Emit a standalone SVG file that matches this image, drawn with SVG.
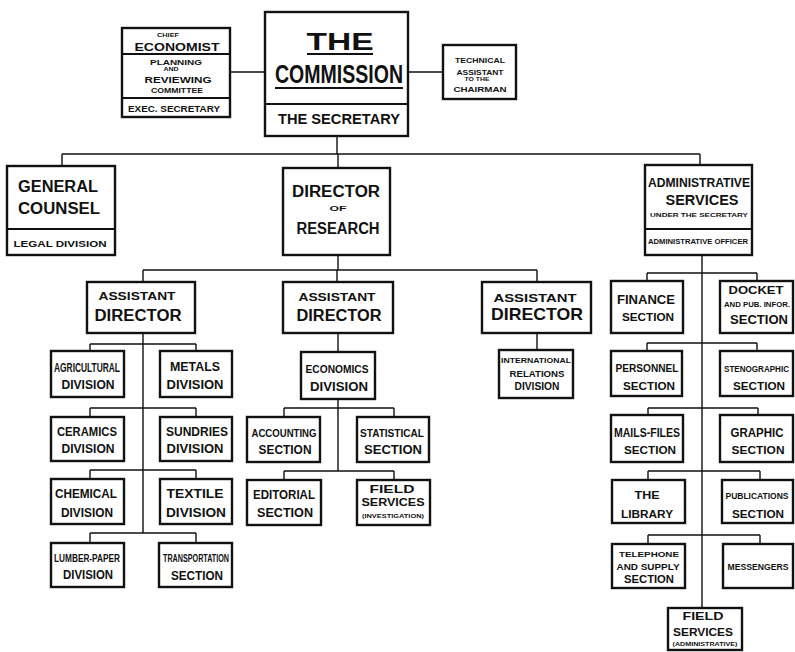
<svg xmlns="http://www.w3.org/2000/svg" width="795" height="652" viewBox="0 0 795 652">
<style>
.b{fill:#fff;stroke:#111;stroke-width:2.4}
.d{stroke:#111;stroke-width:2}
.c{fill:none;stroke:#111;stroke-width:1.4}
text{font-family:"Liberation Sans","DejaVu Sans",sans-serif;font-weight:700;fill:#111;text-anchor:middle}
</style>
<rect width="795" height="652" fill="#fff"/>
<g id="connectors" class="c">
<path d="M230 72H265M408 72H443M337 136V154M62 154H700M62 154V166M338 154V168M700 154V165M338 255V270M143 270H537M143 270V282M337 270V282M537 270V282"/>
<path d="M143 333V533M90 344H196M90 344V351M196 344V351M90 408H196M90 408V417M196 408V417M90 470H196M90 470V479M196 470V479M90 533H196M90 533V543M196 533V543"/>
<path d="M338 333V352M338 399V471M284 408H394M284 408V417M394 408V417M284 471H394M284 471V480M394 471V480M537 333V350"/>
<path d="M702 255V608M647 273H757M647 273V281M757 273V281M647 343H757M647 343V351M757 343V351M648 408H758M648 408V415M758 408V415M648 471H760M648 471V480M760 471V480M648 535H760M648 535V544M760 535V544"/>
</g>
<g id="commission">
<rect class="b" x="265" y="12" width="143" height="124"/>
<line class="d" x1="265" y1="104" x2="408" y2="104"/>
<text x="340" y="50" font-size="24" textLength="67" lengthAdjust="spacingAndGlyphs">THE</text>
<line class="d" x1="307" y1="54" x2="373" y2="54"/>
<text x="339" y="83" font-size="25" textLength="128" lengthAdjust="spacingAndGlyphs">COMMISSION</text>
<line class="d" x1="275" y1="88" x2="403" y2="88"/>
<text x="339" y="124" font-size="15" textLength="122" lengthAdjust="spacingAndGlyphs">THE SECRETARY</text>
</g>
<g id="chief-economist">
<rect class="b" x="122" y="28" width="108" height="89"/>
<line class="d" x1="122" y1="54" x2="230" y2="54"/>
<line class="d" x1="122" y1="98" x2="230" y2="98"/>
<text x="168" y="37" font-size="6" textLength="22" lengthAdjust="spacingAndGlyphs">CHIEF</text>
<text x="177" y="51" font-size="11" textLength="85" lengthAdjust="spacingAndGlyphs">ECONOMIST</text>
<text x="176" y="65" font-size="7" textLength="52" lengthAdjust="spacingAndGlyphs">PLANNING</text>
<text x="171" y="71" font-size="5" textLength="15" lengthAdjust="spacingAndGlyphs">AND</text>
<text x="178" y="83" font-size="8.5" textLength="67" lengthAdjust="spacingAndGlyphs">REVIEWING</text>
<text x="177" y="92.5" font-size="6.5" textLength="52" lengthAdjust="spacingAndGlyphs">COMMITTEE</text>
<text x="174" y="112" font-size="9" textLength="92" lengthAdjust="spacingAndGlyphs">EXEC. SECRETARY</text>
</g>
<g id="technical-assistant">
<rect class="b" x="443" y="45" width="73" height="54"/>
<text x="480" y="62.5" font-size="6.5" textLength="50" lengthAdjust="spacingAndGlyphs">TECHNICAL</text>
<text x="480" y="75" font-size="7" textLength="47" lengthAdjust="spacingAndGlyphs">ASSISTANT</text>
<text x="477" y="81" font-size="4.5" textLength="25" lengthAdjust="spacingAndGlyphs">TO THE</text>
<text x="480" y="91.5" font-size="7" textLength="53" lengthAdjust="spacingAndGlyphs">CHAIRMAN</text>
</g>
<g id="general-counsel">
<rect class="b" x="7" y="166" width="108" height="89"/>
<line class="d" x1="7" y1="229" x2="115" y2="229"/>
<text x="58" y="192" font-size="16" textLength="80" lengthAdjust="spacingAndGlyphs">GENERAL</text>
<text x="59" y="214" font-size="16" textLength="82" lengthAdjust="spacingAndGlyphs">COUNSEL</text>
<text x="60" y="247" font-size="9" textLength="93" lengthAdjust="spacingAndGlyphs">LEGAL DIVISION</text>
</g>
<g id="director-research">
<rect class="b" x="283" y="168" width="107" height="87"/>
<text x="336" y="197" font-size="16" textLength="88" lengthAdjust="spacingAndGlyphs">DIRECTOR</text>
<text x="338" y="211" font-size="6.5" textLength="17" lengthAdjust="spacingAndGlyphs">OF</text>
<text x="338" y="234" font-size="16" textLength="83" lengthAdjust="spacingAndGlyphs">RESEARCH</text>
</g>
<g id="administrative-services">
<rect class="b" x="645" y="165" width="107" height="90"/>
<line class="d" x1="645" y1="229" x2="752" y2="229"/>
<text x="699" y="187" font-size="12" textLength="102" lengthAdjust="spacingAndGlyphs">ADMINISTRATIVE</text>
<text x="702" y="205" font-size="14" textLength="73" lengthAdjust="spacingAndGlyphs">SERVICES</text>
<text x="699" y="217" font-size="6" textLength="98" lengthAdjust="spacingAndGlyphs">UNDER THE SECRETARY</text>
<text x="698" y="244" font-size="8" textLength="100" lengthAdjust="spacingAndGlyphs">ADMINISTRATIVE OFFICER</text>
</g>
<g id="assistant-director-1">
<rect class="b" x="87" y="282" width="108" height="51"/>
<text x="137" y="300" font-size="10" textLength="77" lengthAdjust="spacingAndGlyphs">ASSISTANT</text>
<text x="138" y="321" font-size="16" textLength="87" lengthAdjust="spacingAndGlyphs">DIRECTOR</text>
</g>
<g id="assistant-director-2">
<rect class="b" x="283" y="282" width="110" height="51"/>
<text x="337" y="301" font-size="10" textLength="77" lengthAdjust="spacingAndGlyphs">ASSISTANT</text>
<text x="339" y="321" font-size="16" textLength="85" lengthAdjust="spacingAndGlyphs">DIRECTOR</text>
</g>
<g id="assistant-director-3">
<rect class="b" x="482" y="282" width="109" height="51"/>
<text x="535" y="302" font-size="11" textLength="83" lengthAdjust="spacingAndGlyphs">ASSISTANT</text>
<text x="537" y="320" font-size="17" textLength="92" lengthAdjust="spacingAndGlyphs">DIRECTOR</text>
</g>
<g id="agricultural">
<rect class="b" x="51" y="351" width="73" height="46"/>
<text x="87" y="372" font-size="12" textLength="66" lengthAdjust="spacingAndGlyphs">AGRICULTURAL</text>
<text x="88" y="389" font-size="12" textLength="53" lengthAdjust="spacingAndGlyphs">DIVISION</text>
</g>
<g id="metals">
<rect class="b" x="160" y="351" width="72" height="46"/>
<text x="195" y="371" font-size="12" textLength="50" lengthAdjust="spacingAndGlyphs">METALS</text>
<text x="195" y="389" font-size="12" textLength="57" lengthAdjust="spacingAndGlyphs">DIVISION</text>
</g>
<g id="ceramics">
<rect class="b" x="51" y="417" width="73" height="44"/>
<text x="87" y="436" font-size="12" textLength="60" lengthAdjust="spacingAndGlyphs">CERAMICS</text>
<text x="88" y="453" font-size="12" textLength="53" lengthAdjust="spacingAndGlyphs">DIVISION</text>
</g>
<g id="sundries">
<rect class="b" x="160" y="417" width="72" height="44"/>
<text x="197" y="436" font-size="12" textLength="62" lengthAdjust="spacingAndGlyphs">SUNDRIES</text>
<text x="195" y="453" font-size="12" textLength="57" lengthAdjust="spacingAndGlyphs">DIVISION</text>
</g>
<g id="chemical">
<rect class="b" x="51" y="479" width="73" height="45"/>
<text x="86" y="498" font-size="12" textLength="62" lengthAdjust="spacingAndGlyphs">CHEMICAL</text>
<text x="87" y="517" font-size="12" textLength="52" lengthAdjust="spacingAndGlyphs">DIVISION</text>
</g>
<g id="textile">
<rect class="b" x="160" y="479" width="72" height="45"/>
<text x="195" y="498" font-size="12" textLength="57" lengthAdjust="spacingAndGlyphs">TEXTILE</text>
<text x="196" y="517" font-size="12" textLength="60" lengthAdjust="spacingAndGlyphs">DIVISION</text>
</g>
<g id="lumber-paper">
<rect class="b" x="51" y="543" width="73" height="44"/>
<text x="87" y="562" font-size="11" textLength="66" lengthAdjust="spacingAndGlyphs">LUMBER-PAPER</text>
<text x="88" y="579" font-size="12" textLength="50" lengthAdjust="spacingAndGlyphs">DIVISION</text>
</g>
<g id="transportation">
<rect class="b" x="159" y="543" width="73" height="44"/>
<text x="196" y="562" font-size="11" textLength="66" lengthAdjust="spacingAndGlyphs">TRANSPORTATION</text>
<text x="197" y="580" font-size="12" textLength="52" lengthAdjust="spacingAndGlyphs">SECTION</text>
</g>
<g id="economics">
<rect class="b" x="301" y="352" width="74" height="47"/>
<text x="337" y="373" font-size="11" textLength="63" lengthAdjust="spacingAndGlyphs">ECONOMICS</text>
<text x="339" y="391" font-size="12" textLength="58" lengthAdjust="spacingAndGlyphs">DIVISION</text>
</g>
<g id="accounting">
<rect class="b" x="247" y="417" width="73" height="45"/>
<text x="284" y="437" font-size="11" textLength="65" lengthAdjust="spacingAndGlyphs">ACCOUNTING</text>
<text x="285" y="454" font-size="12" textLength="53" lengthAdjust="spacingAndGlyphs">SECTION</text>
</g>
<g id="statistical">
<rect class="b" x="357" y="417" width="72" height="45"/>
<text x="392" y="437" font-size="11" textLength="64" lengthAdjust="spacingAndGlyphs">STATISTICAL</text>
<text x="393" y="454" font-size="12" textLength="58" lengthAdjust="spacingAndGlyphs">SECTION</text>
</g>
<g id="editorial">
<rect class="b" x="247" y="480" width="74" height="45"/>
<text x="284" y="499" font-size="12" textLength="62" lengthAdjust="spacingAndGlyphs">EDITORIAL</text>
<text x="285" y="517" font-size="12" textLength="56" lengthAdjust="spacingAndGlyphs">SECTION</text>
</g>
<g id="field-services-investigation">
<rect class="b" x="357" y="480" width="73" height="45"/>
<text x="392" y="493" font-size="10" textLength="45" lengthAdjust="spacingAndGlyphs">FIELD</text>
<text x="393" y="506" font-size="10" textLength="63" lengthAdjust="spacingAndGlyphs">SERVICES</text>
<text x="393" y="518" font-size="5.5" textLength="62" lengthAdjust="spacingAndGlyphs">(INVESTIGATION)</text>
</g>
<g id="international-relations">
<rect class="b" x="499" y="350" width="74" height="48"/>
<text x="536" y="363" font-size="8" textLength="70" lengthAdjust="spacingAndGlyphs">INTERNATIONAL</text>
<text x="537" y="377" font-size="9" textLength="55" lengthAdjust="spacingAndGlyphs">RELATIONS</text>
<text x="537" y="390" font-size="10" textLength="45" lengthAdjust="spacingAndGlyphs">DIVISION</text>
</g>
<g id="finance">
<rect class="b" x="611" y="281" width="72" height="52"/>
<text x="646" y="304" font-size="13" textLength="58" lengthAdjust="spacingAndGlyphs">FINANCE</text>
<text x="648" y="321" font-size="11" textLength="52" lengthAdjust="spacingAndGlyphs">SECTION</text>
</g>
<g id="docket">
<rect class="b" x="720" y="281" width="73" height="52"/>
<text x="756" y="294" font-size="10" textLength="55" lengthAdjust="spacingAndGlyphs">DOCKET</text>
<text x="757" y="307" font-size="7" textLength="66" lengthAdjust="spacingAndGlyphs">AND PUB. INFOR.</text>
<text x="759" y="324" font-size="12" textLength="58" lengthAdjust="spacingAndGlyphs">SECTION</text>
</g>
<g id="personnel">
<rect class="b" x="611" y="351" width="71" height="45"/>
<text x="647" y="372" font-size="11" textLength="63" lengthAdjust="spacingAndGlyphs">PERSONNEL</text>
<text x="649" y="390" font-size="11" textLength="52" lengthAdjust="spacingAndGlyphs">SECTION</text>
</g>
<g id="stenographic">
<rect class="b" x="720" y="351" width="73" height="45"/>
<text x="756.5" y="372" font-size="9" textLength="65" lengthAdjust="spacingAndGlyphs">STENOGRAPHIC</text>
<text x="759" y="390" font-size="11" textLength="52" lengthAdjust="spacingAndGlyphs">SECTION</text>
</g>
<g id="mails-files">
<rect class="b" x="611" y="415" width="72" height="47"/>
<text x="647" y="437" font-size="12" textLength="66" lengthAdjust="spacingAndGlyphs">MAILS-FILES</text>
<text x="650" y="454" font-size="11" textLength="52" lengthAdjust="spacingAndGlyphs">SECTION</text>
</g>
<g id="graphic">
<rect class="b" x="720" y="415" width="73" height="47"/>
<text x="757" y="437" font-size="12" textLength="53" lengthAdjust="spacingAndGlyphs">GRAPHIC</text>
<text x="758" y="454" font-size="11" textLength="53" lengthAdjust="spacingAndGlyphs">SECTION</text>
</g>
<g id="library">
<rect class="b" x="612" y="480" width="73" height="43"/>
<text x="647" y="499" font-size="11" textLength="25" lengthAdjust="spacingAndGlyphs">THE</text>
<text x="647" y="518" font-size="11" textLength="52" lengthAdjust="spacingAndGlyphs">LIBRARY</text>
</g>
<g id="publications">
<rect class="b" x="722" y="480" width="71" height="43"/>
<text x="757" y="499" font-size="9" textLength="63" lengthAdjust="spacingAndGlyphs">PUBLICATIONS</text>
<text x="758" y="518" font-size="11" textLength="52" lengthAdjust="spacingAndGlyphs">SECTION</text>
</g>
<g id="telephone-supply">
<rect class="b" x="612" y="544" width="73" height="44"/>
<text x="649" y="557" font-size="8" textLength="60" lengthAdjust="spacingAndGlyphs">TELEPHONE</text>
<text x="648" y="570" font-size="8.5" textLength="63" lengthAdjust="spacingAndGlyphs">AND SUPPLY</text>
<text x="649" y="583" font-size="10" textLength="50" lengthAdjust="spacingAndGlyphs">SECTION</text>
</g>
<g id="messengers">
<rect class="b" x="723" y="544" width="70" height="44"/>
<text x="758" y="570" font-size="9.5" textLength="61" lengthAdjust="spacingAndGlyphs">MESSENGERS</text>
</g>
<g id="field-services-administrative">
<rect class="b" x="668" y="608" width="74" height="42"/>
<text x="703" y="620" font-size="10" textLength="41" lengthAdjust="spacingAndGlyphs">FIELD</text>
<text x="703" y="636" font-size="11" textLength="60" lengthAdjust="spacingAndGlyphs">SERVICES</text>
<text x="705" y="646" font-size="6" textLength="65" lengthAdjust="spacingAndGlyphs">(ADMINISTRATIVE)</text>
</g>
</svg>
